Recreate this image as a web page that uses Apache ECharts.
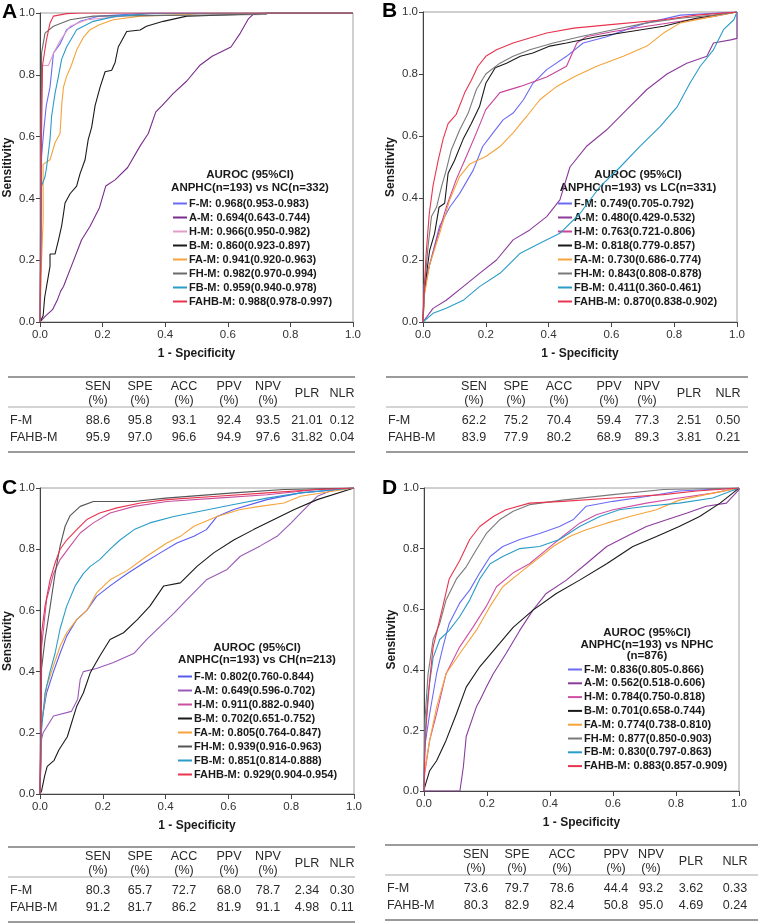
<!DOCTYPE html>
<html><head><meta charset="utf-8">
<script src="https://cdn.jsdelivr.net/npm/echarts@6/dist/echarts.min.js"></script>
<style>html,body{margin:0;padding:0;background:#fff}#c{width:761px;height:923px}</style>
</head><body><div id="c"></div>
<script>
// ---------- data ----------
const curveNames = ['F-M','A-M','H-M','B-M','FA-M','FH-M','FB-M','FAHB-M'];
const colorsA = ['#6b6bf5','#7a2c8c','#e29cc8','#1a1a1a','#f5a33a','#6a6a6a','#2a9cc8','#e8344e'];
const colorsB = ['#6b6bf5','#8b3c9b','#c8449a','#1a1a1a','#f5a33a','#7a7a7a','#2a9cc8','#e8344e'];
const colorsC = ['#5a5af0','#9a5ab8','#c8509e','#1a1a1a','#f5a33a','#555555','#2a9cc8','#e8344e'];
const colorsD = ['#6b6bf5','#8b3c9b','#d050a4','#1a1a1a','#f5a33a','#7a7a7a','#2a9cc8','#e8344e'];

const aurocA = ['0.968(0.953-0.983)','0.694(0.643-0.744)','0.966(0.950-0.982)','0.860(0.923-0.897)','0.941(0.920-0.963)','0.982(0.970-0.994)','0.959(0.940-0.978)','0.988(0.978-0.997)'];
const aurocB = ['0.749(0.705-0.792)','0.480(0.429-0.532)','0.763(0.721-0.806)','0.818(0.779-0.857)','0.730(0.686-0.774)','0.843(0.808-0.878)','0.411(0.360-0.461)','0.870(0.838-0.902)'];
const aurocC = ['0.802(0.760-0.844)','0.649(0.596-0.702)','0.911(0.882-0.940)','0.702(0.651-0.752)','0.805(0.764-0.847)','0.939(0.916-0.963)','0.851(0.814-0.888)','0.929(0.904-0.954)'];
const aurocD = ['0.836(0.805-0.866)','0.562(0.518-0.606)','0.784(0.750-0.818)','0.701(0.658-0.744)','0.774(0.738-0.810)','0.877(0.850-0.903)','0.830(0.797-0.863)','0.883(0.857-0.909)'];

const subtitleA = ['AUROC (95%CI)','ANPHC(n=193) vs NC(n=332)'];
const subtitleB = ['AUROC (95%CI)','ANPHC(n=193) vs LC(n=331)'];
const subtitleC = ['AUROC (95%CI)','ANPHC(n=193) vs CH(n=213)'];
const subtitleD = ['AUROC (95%CI)','ANPHC(n=193) vs NPHC','(n=876)'];

// ROC points [1-specificity, sensitivity]
const rocA_FM = [[0,0],[0.003,0.3],[0.005,0.535],[0.012,0.62],[0.02,0.70],[0.032,0.76],[0.043,0.87],[0.064,0.90],[0.085,0.946],[0.128,0.973],[0.19,0.99],[0.35,1],[1,1]];
const rocA_AM = [[0,0],[0.018,0.02],[0.04,0.04],[0.055,0.07],[0.066,0.10],[0.075,0.115],[0.10,0.18],[0.133,0.266],[0.16,0.31],[0.19,0.37],[0.21,0.44],[0.24,0.46],[0.28,0.50],[0.32,0.57],[0.346,0.61],[0.37,0.68],[0.39,0.70],[0.426,0.74],[0.469,0.78],[0.51,0.83],[0.55,0.86],[0.61,0.89],[0.64,0.935],[0.665,0.98],[0.68,0.995],[0.735,1],[1,1]];
const rocA_HM = [[0,0],[0.003,0.55],[0.005,0.75],[0.008,0.83],[0.027,0.83],[0.043,0.87],[0.064,0.91],[0.096,0.957],[0.15,0.978],[0.32,0.995],[0.40,1],[1,1]];
const rocA_BM = [[0,0],[0.01,0.02],[0.015,0.08],[0.021,0.115],[0.032,0.18],[0.032,0.22],[0.048,0.22],[0.059,0.265],[0.069,0.31],[0.075,0.35],[0.08,0.385],[0.096,0.415],[0.117,0.44],[0.128,0.48],[0.144,0.525],[0.154,0.59],[0.165,0.63],[0.176,0.70],[0.192,0.76],[0.208,0.81],[0.229,0.815],[0.24,0.84],[0.25,0.89],[0.277,0.94],[0.32,0.945],[0.34,0.957],[0.394,0.973],[0.469,0.99],[0.64,0.995],[0.724,1],[1,1]];
const rocA_FAM = [[0,0],[0.005,0.2],[0.01,0.33],[0.01,0.51],[0.032,0.525],[0.048,0.58],[0.064,0.61],[0.07,0.71],[0.075,0.76],[0.085,0.795],[0.10,0.83],[0.117,0.88],[0.138,0.92],[0.16,0.946],[0.19,0.962],[0.234,0.978],[0.32,0.99],[0.47,0.995],[0.53,1],[1,1]];
const rocA_FHM = [[0,0],[0.003,0.5],[0.005,0.87],[0.016,0.935],[0.043,0.957],[0.096,0.978],[0.17,0.99],[0.72,0.995],[0.73,1],[1,1]];
const rocA_FBM = [[0,0],[0.003,0.2],[0.005,0.44],[0.016,0.47],[0.021,0.50],[0.032,0.59],[0.037,0.665],[0.048,0.74],[0.059,0.795],[0.069,0.85],[0.085,0.89],[0.117,0.946],[0.17,0.973],[0.245,0.99],[0.35,0.998],[0.72,1],[1,1]];
const rocA_FAHBM = [[0,0],[0.003,0.3],[0.005,0.61],[0.008,0.83],[0.02,0.91],[0.032,0.967],[0.043,0.99],[0.085,0.998],[0.13,1],[1,1]];

const rocB_FM = [[0,0],[0.003,0.12],[0.02,0.18],[0.053,0.31],[0.085,0.37],[0.117,0.415],[0.16,0.49],[0.19,0.566],[0.223,0.61],[0.255,0.652],[0.287,0.674],[0.32,0.717],[0.35,0.77],[0.394,0.814],[0.457,0.857],[0.51,0.90],[0.585,0.92],[0.66,0.948],[0.713,0.965],[0.82,0.99],[1,1]];
const rocB_AM = [[0,0],[0.005,0.006],[0.032,0.044],[0.074,0.07],[0.128,0.114],[0.18,0.157],[0.234,0.20],[0.287,0.265],[0.34,0.297],[0.394,0.34],[0.436,0.394],[0.468,0.50],[0.52,0.566],[0.585,0.62],[0.649,0.685],[0.713,0.75],[0.777,0.80],[0.84,0.835],[0.904,0.857],[0.925,0.90],[0.98,0.91],[1,0.915],[1,1]];
const rocB_HM = [[0,0],[0.005,0.10],[0.02,0.18],[0.043,0.265],[0.074,0.37],[0.106,0.46],[0.138,0.534],[0.17,0.61],[0.20,0.685],[0.245,0.74],[0.31,0.76],[0.394,0.79],[0.457,0.825],[0.49,0.90],[0.52,0.92],[0.606,0.937],[0.713,0.954],[0.82,0.97],[0.925,0.986],[1,1]];
const rocB_BM = [[0,0],[0.003,0.08],[0.01,0.146],[0.021,0.23],[0.037,0.286],[0.051,0.37],[0.069,0.383],[0.08,0.48],[0.10,0.52],[0.128,0.59],[0.154,0.64],[0.18,0.695],[0.20,0.77],[0.23,0.82],[0.266,0.835],[0.31,0.857],[0.35,0.868],[0.404,0.89],[0.457,0.90],[0.553,0.92],[0.66,0.937],[0.766,0.954],[0.87,0.98],[1,1]];
const rocB_FAM = [[0,0],[0.005,0.09],[0.02,0.18],[0.053,0.286],[0.085,0.394],[0.117,0.47],[0.149,0.51],[0.20,0.534],[0.245,0.566],[0.287,0.61],[0.33,0.663],[0.372,0.717],[0.426,0.76],[0.48,0.79],[0.553,0.825],[0.638,0.857],[0.713,0.89],[0.766,0.932],[0.82,0.965],[0.925,0.986],[1,1]];
const rocB_FHM = [[0,0],[0.005,0.114],[0.016,0.243],[0.027,0.34],[0.043,0.37],[0.059,0.437],[0.074,0.49],[0.09,0.555],[0.117,0.62],[0.144,0.674],[0.17,0.75],[0.20,0.80],[0.245,0.835],[0.287,0.857],[0.34,0.878],[0.415,0.90],[0.50,0.92],[0.606,0.943],[0.713,0.965],[0.82,0.98],[0.925,0.99],[1,1]];
const rocB_FBM = [[0,0],[0.005,0.006],[0.032,0.028],[0.074,0.044],[0.128,0.07],[0.18,0.114],[0.245,0.157],[0.31,0.222],[0.372,0.254],[0.436,0.286],[0.50,0.35],[0.564,0.437],[0.628,0.50],[0.69,0.566],[0.755,0.63],[0.81,0.695],[0.85,0.77],[0.883,0.825],[0.925,0.878],[0.957,0.943],[0.99,0.975],[1,1]];
const rocB_FAHBM = [[0,0],[0.003,0.09],[0.01,0.22],[0.02,0.35],[0.032,0.44],[0.048,0.52],[0.064,0.59],[0.08,0.64],[0.106,0.67],[0.133,0.74],[0.154,0.78],[0.175,0.825],[0.20,0.857],[0.234,0.878],[0.287,0.90],[0.34,0.916],[0.394,0.932],[0.48,0.948],[0.606,0.96],[0.766,0.975],[0.87,0.99],[1,1]];

const rocC_FM = [[0,0],[0.005,0.233],[0.021,0.33],[0.043,0.40],[0.064,0.46],[0.085,0.516],[0.117,0.57],[0.149,0.60],[0.18,0.646],[0.223,0.68],[0.277,0.72],[0.33,0.755],[0.383,0.788],[0.436,0.82],[0.49,0.842],[0.53,0.864],[0.564,0.907],[0.617,0.93],[0.723,0.962],[0.83,0.984],[1,1]];
const rocC_AM = [[0,0],[0.005,0.18],[0.01,0.20],[0.043,0.255],[0.10,0.27],[0.12,0.31],[0.128,0.374],[0.138,0.40],[0.18,0.41],[0.234,0.43],[0.30,0.46],[0.34,0.505],[0.383,0.548],[0.426,0.59],[0.468,0.635],[0.53,0.70],[0.596,0.734],[0.638,0.777],[0.70,0.81],[0.755,0.842],[0.80,0.886],[0.83,0.918],[0.883,0.973],[0.936,0.995],[1,1]];
const rocC_HM = [[0,0],[0.003,0.3],[0.005,0.48],[0.021,0.635],[0.043,0.72],[0.064,0.766],[0.096,0.81],[0.128,0.853],[0.17,0.886],[0.223,0.918],[0.30,0.94],[0.404,0.956],[0.564,0.967],[0.723,0.978],[0.883,0.995],[1,1]];
const rocC_BM = [[0,0],[0.005,0.01],[0.015,0.06],[0.023,0.09],[0.045,0.11],[0.06,0.144],[0.087,0.187],[0.117,0.287],[0.138,0.33],[0.16,0.396],[0.19,0.45],[0.223,0.505],[0.266,0.527],[0.31,0.57],[0.35,0.614],[0.394,0.68],[0.447,0.69],[0.50,0.744],[0.553,0.788],[0.617,0.83],[0.68,0.864],[0.745,0.897],[0.81,0.93],[0.883,0.962],[1,1]];
const rocC_FAM = [[0,0],[0.005,0.233],[0.021,0.35],[0.043,0.42],[0.064,0.483],[0.085,0.527],[0.117,0.57],[0.149,0.60],[0.18,0.657],[0.223,0.70],[0.277,0.73],[0.34,0.777],[0.404,0.82],[0.447,0.842],[0.49,0.875],[0.564,0.907],[0.638,0.93],[0.70,0.94],[0.777,0.951],[0.83,0.973],[0.936,0.99],[1,1]];
const rocC_FHM = [[0,0],[0.003,0.2],[0.005,0.41],[0.016,0.505],[0.032,0.61],[0.048,0.72],[0.064,0.81],[0.08,0.875],[0.096,0.91],[0.128,0.94],[0.17,0.956],[0.30,0.956],[0.40,0.967],[0.617,0.984],[0.777,0.995],[1,1]];
const rocC_FBM = [[0,0],[0.005,0.21],[0.016,0.33],[0.032,0.40],[0.048,0.46],[0.064,0.54],[0.085,0.614],[0.112,0.68],[0.138,0.72],[0.16,0.744],[0.19,0.766],[0.223,0.80],[0.255,0.83],[0.30,0.864],[0.35,0.886],[0.426,0.907],[0.51,0.924],[0.617,0.946],[0.723,0.967],[0.83,0.984],[1,1]];
const rocC_FAHBM = [[0,0],[0.003,0.25],[0.005,0.527],[0.016,0.614],[0.032,0.70],[0.048,0.755],[0.064,0.80],[0.085,0.83],[0.117,0.864],[0.149,0.897],[0.19,0.918],[0.245,0.935],[0.32,0.951],[0.404,0.962],[0.564,0.973],[0.723,0.984],[0.883,0.995],[1,1]];

const rocD_FM = [[0,0],[0.002,0.145],[0.018,0.255],[0.04,0.387],[0.06,0.475],[0.08,0.553],[0.113,0.62],[0.145,0.663],[0.177,0.72],[0.21,0.774],[0.25,0.807],[0.304,0.83],[0.367,0.85],[0.43,0.873],[0.473,0.895],[0.515,0.94],[0.60,0.956],[0.706,0.972],[0.81,0.99],[1,1]];
const rocD_AM = [[0,0],[0.114,0],[0.125,0.08],[0.134,0.18],[0.166,0.277],[0.178,0.30],[0.198,0.343],[0.22,0.387],[0.26,0.453],[0.304,0.53],[0.346,0.597],[0.388,0.652],[0.452,0.696],[0.515,0.75],[0.58,0.807],[0.642,0.84],[0.706,0.873],[0.77,0.895],[0.833,0.917],[0.896,0.94],[0.96,0.95],[1,0.995],[1,1]];
const rocD_HM = [[0,0],[0.002,0.056],[0.018,0.167],[0.04,0.255],[0.07,0.387],[0.113,0.475],[0.155,0.54],[0.198,0.61],[0.23,0.674],[0.283,0.72],[0.335,0.75],[0.388,0.796],[0.44,0.84],[0.494,0.884],[0.547,0.912],[0.60,0.928],[0.706,0.95],[0.81,0.967],[0.917,0.983],[1,1]];
const rocD_BM = [[0,0],[0.002,0.012],[0.018,0.067],[0.04,0.10],[0.07,0.167],[0.103,0.255],[0.134,0.343],[0.177,0.41],[0.23,0.475],[0.283,0.54],[0.346,0.597],[0.42,0.652],[0.494,0.696],[0.58,0.75],[0.663,0.807],[0.738,0.84],[0.81,0.873],[0.875,0.906],[0.94,0.95],[0.98,0.983],[1,1]];
const rocD_FAM = [[0,0],[0.002,0.067],[0.018,0.167],[0.04,0.277],[0.07,0.387],[0.113,0.453],[0.166,0.53],[0.21,0.61],[0.25,0.674],[0.304,0.72],[0.357,0.763],[0.41,0.807],[0.462,0.84],[0.515,0.862],[0.58,0.884],[0.653,0.906],[0.738,0.928],[0.81,0.96],[0.917,0.983],[1,1]];
const rocD_FHM = [[0,0],[0.002,0.22],[0.013,0.387],[0.029,0.50],[0.05,0.553],[0.07,0.63],[0.103,0.70],[0.134,0.74],[0.166,0.796],[0.198,0.85],[0.24,0.895],[0.283,0.923],[0.335,0.945],[0.44,0.96],[0.60,0.978],[0.76,0.995],[1,1]];
const rocD_FBM = [[0,0],[0.002,0.167],[0.013,0.32],[0.029,0.44],[0.05,0.50],[0.08,0.53],[0.113,0.575],[0.145,0.63],[0.177,0.70],[0.21,0.75],[0.25,0.774],[0.304,0.80],[0.367,0.807],[0.43,0.83],[0.494,0.873],[0.558,0.906],[0.62,0.928],[0.706,0.94],[0.81,0.95],[0.917,0.967],[1,1]];
const rocD_FAHBM = [[0,0],[0.002,0.10],[0.007,0.22],[0.018,0.365],[0.029,0.475],[0.044,0.54],[0.06,0.61],[0.08,0.70],[0.113,0.76],[0.145,0.83],[0.177,0.873],[0.22,0.906],[0.26,0.928],[0.335,0.95],[0.44,0.956],[0.60,0.967],[0.76,0.978],[0.865,0.99],[1,1]];

const axisTicks = [0, 0.2, 0.4, 0.6, 0.8, 1.0];

// tables
const tableHead1 = ['SEN','SPE','ACC','PPV','NPV','PLR','NLR'];
const tableHead2 = ['(%)','(%)','(%)','(%)','(%)','',''];
const tableRowLabels = ['F-M','FAHB-M'];
const tableA_FM = ['88.6','95.8','93.1','92.4','93.5','21.01','0.12'];
const tableA_FAHBM = ['95.9','97.0','96.6','94.9','97.6','31.82','0.04'];
const tableB_FM = ['62.2','75.2','70.4','59.4','77.3','2.51','0.50'];
const tableB_FAHBM = ['83.9','77.9','80.2','68.9','89.3','3.81','0.21'];
const tableC_FM = ['80.3','65.7','72.7','68.0','78.7','2.34','0.30'];
const tableC_FAHBM = ['91.2','81.7','86.2','81.9','91.1','4.98','0.11'];
const tableD_FM = ['73.6','79.7','78.6','44.4','93.2','3.62','0.33'];
const tableD_FAHBM = ['80.3','82.9','82.4','50.8','95.0','4.69','0.24'];

// ---------- layout ----------
const colsLeft = [98,140,184,229,268,307,342];
const panels = [
  {letter:'A', colors:colorsA, curves:[rocA_FM,rocA_AM,rocA_HM,rocA_BM,rocA_FAM,rocA_FHM,rocA_FBM,rocA_FAHBM], auroc:aurocA, sub:subtitleA, tab:[tableA_FM,tableA_FAHBM],
   grid:{left:40,top:13,width:313,height:309}, letterPos:[2,2], subPos:[250,175], subGap:12.5, legPos:[173,197], legGap:14,
   tabX:[8,355], tabCols:colsLeft, tabY:377},
  {letter:'B', colors:colorsB, curves:[rocB_FM,rocB_AM,rocB_HM,rocB_BM,rocB_FAM,rocB_FHM,rocB_FBM,rocB_FAHBM], auroc:aurocB, sub:subtitleB, tab:[tableB_FM,tableB_FAHBM],
   grid:{left:423,top:12,width:314,height:310}, letterPos:[382,1], subPos:[638,175], subGap:12.5, legPos:[558,197], legGap:14,
   tabX:[386,748], tabCols:[474,516,559,609,647,689,728], tabY:377},
  {letter:'C', colors:colorsC, curves:[rocC_FM,rocC_AM,rocC_HM,rocC_BM,rocC_FAM,rocC_FHM,rocC_FBM,rocC_FAHBM], auroc:aurocC, sub:subtitleC, tab:[tableC_FM,tableC_FAHBM],
   grid:{left:40,top:488,width:314,height:306}, letterPos:[2,478], subPos:[257,648], subGap:12, legPos:[178,670], legGap:14,
   tabX:[8,355], tabCols:colsLeft, tabY:847},
  {letter:'D', colors:colorsD, curves:[rocD_FM,rocD_AM,rocD_HM,rocD_BM,rocD_FAM,rocD_FHM,rocD_FBM,rocD_FAHBM], auroc:aurocD, sub:subtitleD, tab:[tableD_FM,tableD_FAHBM],
   grid:{left:424,top:488,width:315,height:303}, letterPos:[382,478], subPos:[647,633], subGap:11.5, legPos:[568,663], legGap:13.8,
   tabX:[385,758], tabCols:[476,517,562,616,651,691,735], tabY:845},
];

const FONT = '"Liberation Sans", Arial, sans-serif';
const option = {animation:false, backgroundColor:'#fff', grid:[], xAxis:[], yAxis:[], series:[], legend:[], graphic:[]};

panels.forEach((p, i) => {
  option.grid.push(Object.assign({show:true, borderColor:'#a0a0a0', borderWidth:1, containLabel:false}, p.grid));
  option.xAxis.push({gridIndex:i, type:'value', min:axisTicks[0], max:axisTicks[axisTicks.length-1], interval:0.2,
    axisLine:{show:true, onZero:false, lineStyle:{color:'#444', width:1}},
    axisTick:{show:true, length:5, lineStyle:{color:'#444'}},
    axisLabel:{formatter:v=>v.toFixed(1), fontSize:11.5, color:'#333', margin:7, fontFamily:FONT},
    splitLine:{show:false},
    name:'1 - Specificity', nameLocation:'middle', nameGap:26,
    nameTextStyle:{fontWeight:'bold', fontSize:12, color:'#1a1a1a', fontFamily:FONT}});
  option.yAxis.push({gridIndex:i, type:'value', min:axisTicks[0], max:axisTicks[axisTicks.length-1], interval:0.2,
    axisLine:{show:true, onZero:false, lineStyle:{color:'#444', width:1}},
    axisTick:{show:true, length:4, lineStyle:{color:'#444'}},
    axisLabel:{formatter:v=>v.toFixed(1), fontSize:11.5, color:'#333', margin:5, fontFamily:FONT},
    splitLine:{show:false},
    name:'Sensitivity', nameLocation:'middle', nameGap:26,
    nameTextStyle:{fontWeight:'bold', fontSize:12, color:'#1a1a1a', fontFamily:FONT}});
  const names = [];
  p.curves.forEach((data, k) => {
    const nm = curveNames[k] + ': ' + p.auroc[k];
    names.push(nm);
    option.series.push({type:'line', name:nm, xAxisIndex:i, yAxisIndex:i, data:data, showSymbol:false, symbol:'none',
      lineStyle:{width:1.1, color:p.colors[k]}, itemStyle:{color:p.colors[k]}, z:2+k});
  });
  option.legend.push({data:names, orient:'vertical', left:p.legPos[0], top:p.legPos[1], padding:0,
    itemGap:p.legGap-13, itemWidth:14, itemHeight:2, icon:'rect', selectedMode:false,
    textStyle:{fontSize:11, fontWeight:'bold', color:'#1a1a1a', fontFamily:FONT, padding:[0,0,0,-3], lineHeight:13}});
  // panel letter
  option.graphic.push({type:'text', left:p.letterPos[0], top:p.letterPos[1],
    style:{text:p.letter, font:'bold 21px '+FONT, fill:'#000'}});
  // legend header
  p.sub.forEach((s, j) => {
    option.graphic.push({type:'text', x:p.subPos[0], y:p.subPos[1] + j*p.subGap,
      style:{text:s, font:'bold 11.5px '+FONT, fill:'#1a1a1a', textAlign:'center', textVerticalAlign:'middle'}});
  });
  // table
  const y0 = p.tabY, x0 = p.tabX[0], x1 = p.tabX[1];
  const lineY = [y0, y0+30, y0+75];
  option.graphic.push({type:'line', shape:{x1:x0,y1:lineY[0],x2:x1,y2:lineY[0]}, style:{stroke:'#7a7a7a', lineWidth:1.5}});
  option.graphic.push({type:'line', shape:{x1:x0,y1:lineY[1],x2:x1,y2:lineY[1]}, style:{stroke:'#a8a8a8', lineWidth:1}});
  option.graphic.push({type:'line', shape:{x1:x0,y1:lineY[2],x2:x1,y2:lineY[2]}, style:{stroke:'#7a7a7a', lineWidth:1.5}});
  const tf = '13.5px ' + FONT;
  tableHead1.forEach((h, c) => {
    const two = tableHead2[c] !== '';
    option.graphic.push({type:'text', x:p.tabCols[c], y: two ? y0+9 : y0+16, scaleX:0.93,
      style:{text:h, font:tf, fill:'#2a2a2a', textAlign:'center', textVerticalAlign:'middle'}});
    if (two) option.graphic.push({type:'text', x:p.tabCols[c], y:y0+23, scaleX:0.93,
      style:{text:tableHead2[c], font:tf, fill:'#2a2a2a', textAlign:'center', textVerticalAlign:'middle'}});
  });
  tableRowLabels.forEach((r, ri) => {
    const yy = y0 + 43 + ri*17;
    option.graphic.push({type:'text', x:x0+2, y:yy, scaleX:0.93, style:{text:r, font:tf, fill:'#2a2a2a', textAlign:'left', textVerticalAlign:'middle'}});
    p.tab[ri].forEach((v, c) => {
      option.graphic.push({type:'text', x:p.tabCols[c], y:yy, scaleX:0.93, style:{text:v, font:tf, fill:'#2a2a2a', textAlign:'center', textVerticalAlign:'middle'}});
    });
  });
});

const chart = echarts.init(document.getElementById('c'), null, {renderer:'canvas'});
chart.setOption(option);
</script></body></html>
